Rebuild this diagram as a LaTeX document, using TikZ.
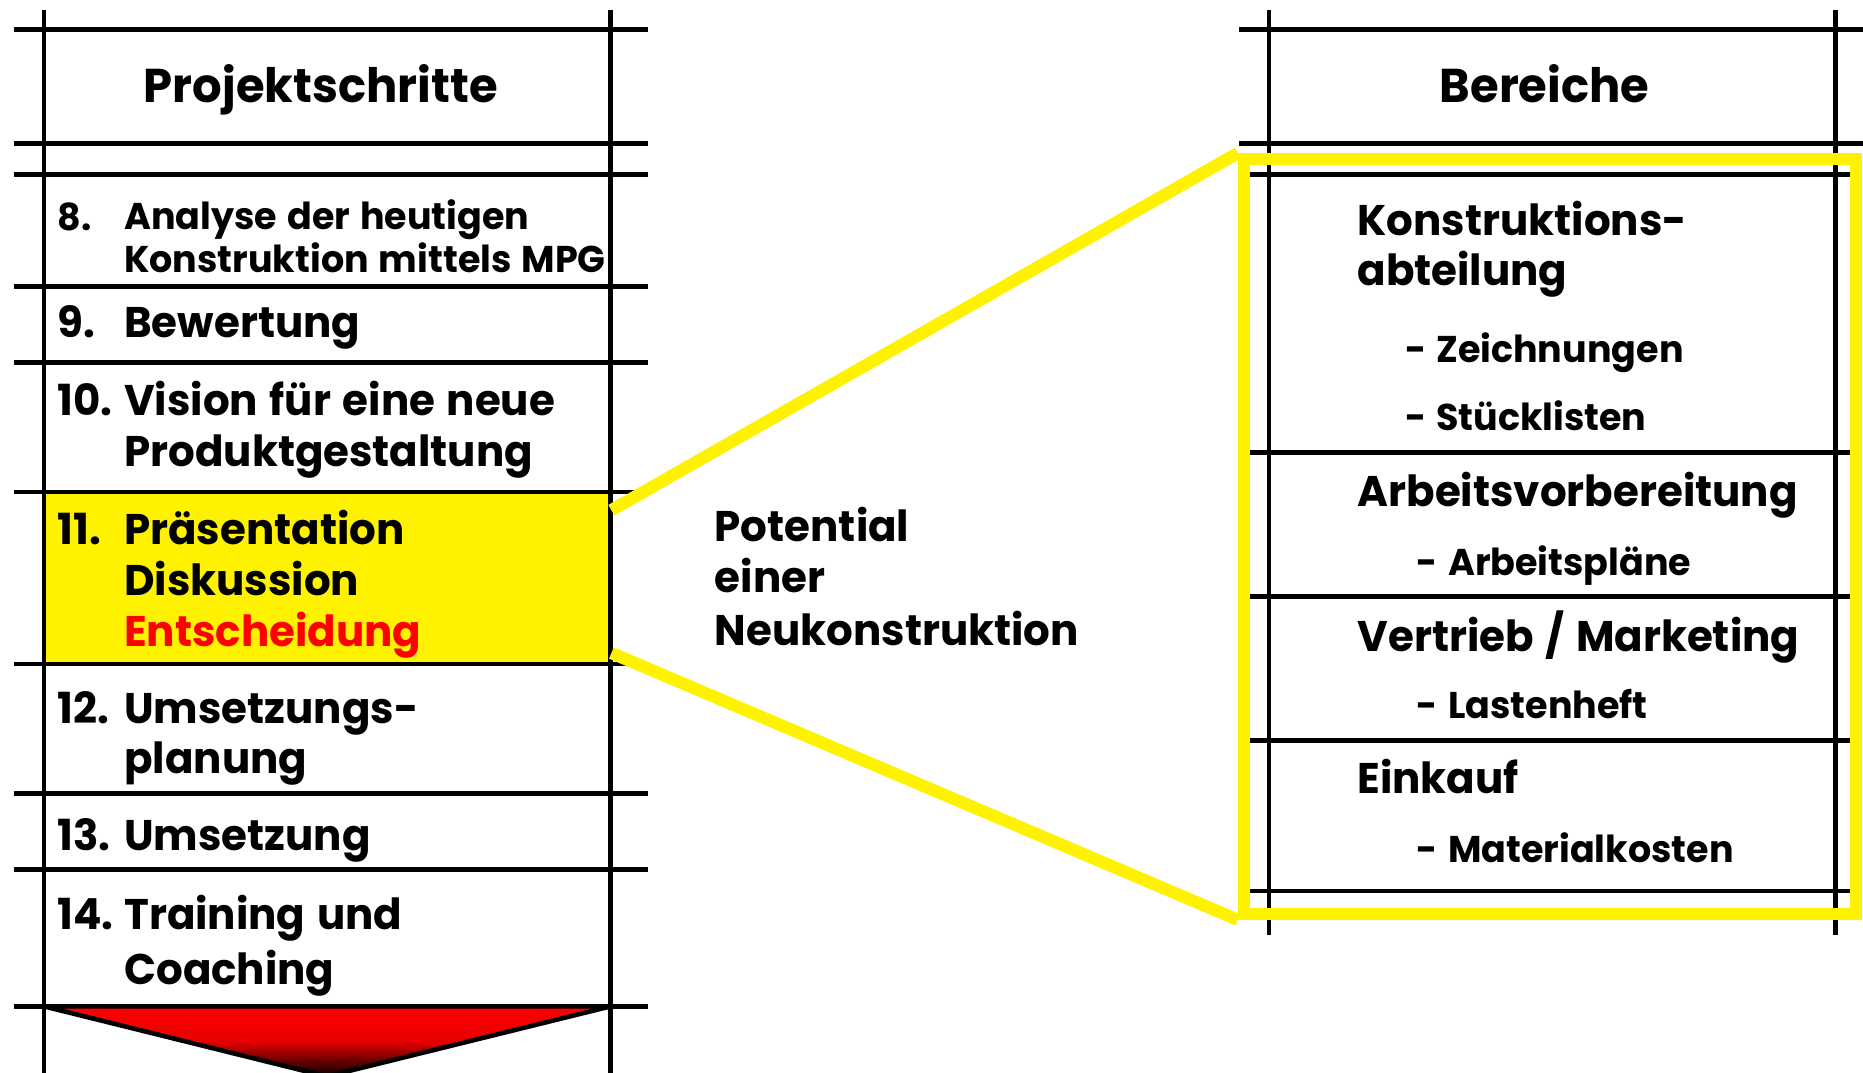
\documentclass[tikz,border=0pt]{standalone}
\usepackage{fontspec}
\setmainfont{Poppins}[FakeStretch=0.98, WordSpace=1.3]
\usepackage{tikz}
\usetikzlibrary{positioning,calc,fit}

\tikzset{
  gridline/.style={line width=1.3pt},
  hiline/.style={draw=yellow, line width=3.5pt},
  headtxt/.style={anchor=base, inner sep=0pt, font=\bfseries\fontsize{13.5}{16}\selectfont},
  steptxt/.style={anchor=base west, inner sep=0pt, font=\bfseries\fontsize{12.2}{14}\selectfont},
  smalltxt/.style={steptxt, font=\bfseries\fontsize{10.6}{12}\selectfont},
  subtxt/.style={steptxt, font=\bfseries\fontsize{10.6}{13}\selectfont}
}

\begin{document}
\begin{tikzpicture}[x=0.01188cm, y=-0.01188cm]
\useasboundingbox (0,0) rectangle (1568,903);

% highlighted step
\coordinate (hlA) at (37,414);
\coordinate (hlB) at (514,559);
\node[fit=(hlA)(hlB), inner sep=0pt, fill=yellow] (hl) {};

% left table
\foreach \y in {25,121,147,241,305,414,559,668,732,847}
  \draw[gridline] (12,\y) -- (545,\y);
\draw[gridline, top color=red, bottom color=black, middle color=red!90!black]
  (37,847) -- (514,847) -- (275,906) -- cycle;
\foreach \x in {37,514}
  \draw[gridline] (\x,8) -- (\x,910);

% right table
\foreach \x in {1068,1545}
  \draw[gridline] (\x,8) -- (\x,787);
\foreach \y in {25,121}
  \draw[gridline] (1043,\y) -- (1568,\y);
\foreach \y in {147,381,502,623,750}
  \draw[gridline] (1052,\y) -- (1558,\y);

% yellow frame and zoom lines
\coordinate (frA) at (1047,134);
\coordinate (frB) at (1562,769);
\node[fit=(frA)(frB), inner sep=0pt, hiline] (frame) {};
\draw[hiline] ($(hl.north east)+(0,16)$) -- (frame.north west);
\draw[hiline] ($(hl.south east)+(0,-10)$) -- (frame.south west);

% headers
\node[headtxt] (hdL) at (270,86) {Projektschritte};
\node[headtxt] (hdR) at (1300,86) {Bereiche};

% steps
\node[smalltxt] (n8) at (48,194) {8.};
\node[smalltxt] (t8a) at (104,193) {Analyse der heutigen};
\node[smalltxt] (t8b) at (104,229) {Konstruktion mittels MPG};
\node[steptxt] (n9) at (48,284) {9.};
\node[steptxt] (t9) at (104,284) {Bewertung};
\node[steptxt] (n10) at (48,350) {10.};
\node[steptxt] (t10a) at (104,350) {Vision für eine neue};
\node[steptxt] (t10b) at (104,393) {Produktgestaltung};
\node[steptxt] (n11) at (48,458) {11.};
\node[steptxt] (t11a) at (104,458) {Präsentation};
\node[steptxt] (t11b) at (104,501) {Diskussion};
\node[steptxt, text=red] (t11c) at (104,544) {Entscheidung};
\node[steptxt] (n12) at (48,609) {12.};
\node[steptxt] (t12a) at (104,609) {Umsetzungs-};
\node[steptxt] (t12b) at (104,651) {planung};
\node[steptxt] (n13) at (48,716) {13.};
\node[steptxt] (t13) at (104,716) {Umsetzung};
\node[steptxt] (n14) at (48,782) {14.};
\node[steptxt] (t14a) at (104,782) {Training und};
\node[steptxt] (t14b) at (104,829) {Coaching};

% middle text
\node[steptxt] (pot1) at (601,456) {Potential};
\node[steptxt] (pot2) at (601,499) {einer};
\node[steptxt] (pot3) at (601,543) {Neukonstruktion};

% areas
\node[steptxt] (b1a) at (1142,198) {Konstruktions-};
\node[steptxt] (b1b) at (1142,240) {abteilung};
\node[subtxt] (s1a) at (1182,305) {- Zeichnungen};
\node[subtxt] (s1b) at (1182,362) {- Stücklisten};
\node[steptxt] (b2) at (1142,426) {Arbeitsvorbereitung};
\node[subtxt] (s2) at (1192,484) {- Arbeitspläne};
\node[steptxt] (b3) at (1142,548) {Vertrieb / Marketing};
\node[subtxt] (s3) at (1192,605) {- Lastenheft};
\node[steptxt] (b4) at (1142,668) {Einkauf};
\node[subtxt] (s4) at (1192,726) {- Materialkosten};
\end{tikzpicture}
\end{document}
